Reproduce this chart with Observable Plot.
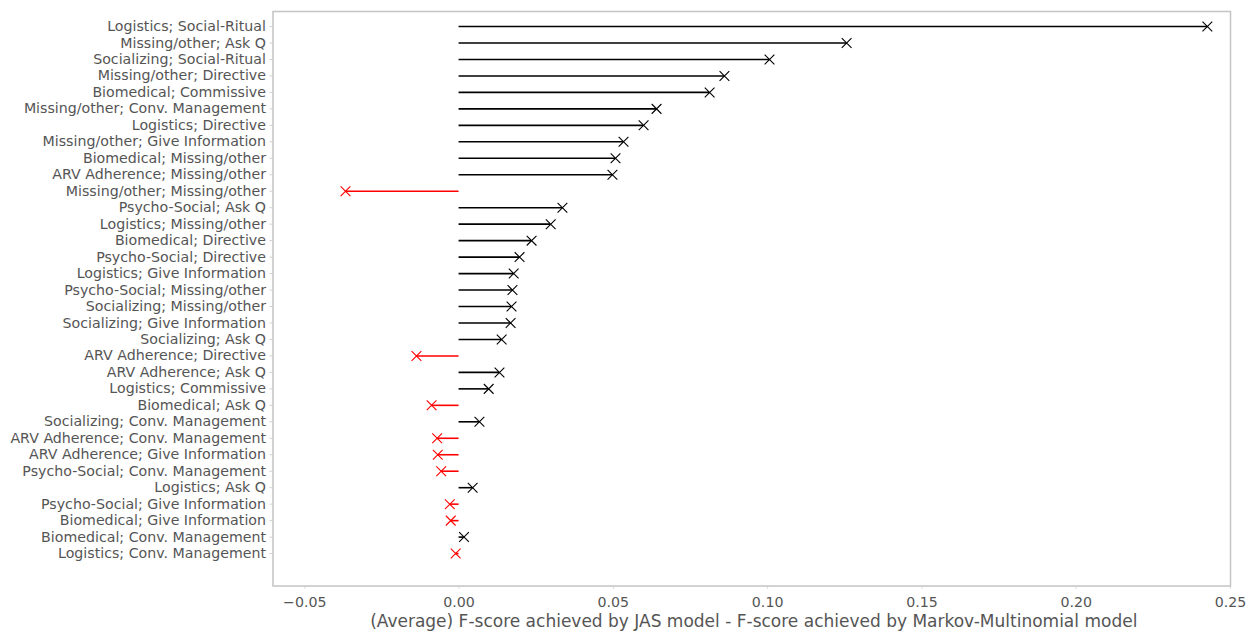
<!DOCTYPE html>
<html>
<head>
<meta charset="utf-8">
<script src="https://cdn.jsdelivr.net/npm/d3@7"></script>
<script src="https://cdn.jsdelivr.net/npm/@observablehq/plot@0.6"></script>
<style>
  html, body { margin: 0; padding: 0; background: #fff; }
</style>
</head>
<body>
<div id="chart"></div>
<script>
const labels = [
  "Logistics; Social-Ritual",
  "Missing/other; Ask Q",
  "Socializing; Social-Ritual",
  "Missing/other; Directive",
  "Biomedical; Commissive",
  "Missing/other; Conv. Management",
  "Logistics; Directive",
  "Missing/other; Give Information",
  "Biomedical; Missing/other",
  "ARV Adherence; Missing/other",
  "Missing/other; Missing/other",
  "Psycho-Social; Ask Q",
  "Logistics; Missing/other",
  "Biomedical; Directive",
  "Psycho-Social; Directive",
  "Logistics; Give Information",
  "Psycho-Social; Missing/other",
  "Socializing; Missing/other",
  "Socializing; Give Information",
  "Socializing; Ask Q",
  "ARV Adherence; Directive",
  "ARV Adherence; Ask Q",
  "Logistics; Commissive",
  "Biomedical; Ask Q",
  "Socializing; Conv. Management",
  "ARV Adherence; Conv. Management",
  "ARV Adherence; Give Information",
  "Psycho-Social; Conv. Management",
  "Logistics; Ask Q",
  "Psycho-Social; Give Information",
  "Biomedical; Give Information",
  "Biomedical; Conv. Management",
  "Logistics; Conv. Management"
];
const values = [
  0.2425, 0.1256, 0.1006, 0.0860, 0.0812, 0.0640, 0.0598, 0.0533, 0.0507, 0.0497,
  -0.0368, 0.0335, 0.0297, 0.0235, 0.0196, 0.0177, 0.0173, 0.0170, 0.0167, 0.0138,
  -0.0138, 0.0131, 0.0096, -0.0089, 0.0066, -0.0071, -0.0069, -0.0058, 0.0044,
  -0.0030, -0.0027, 0.0016, -0.0011
];
const xTicks = [-0.05, 0, 0.05, 0.10, 0.15, 0.20, 0.25];
const xLabel = "(Average) F-score achieved by JAS model - F-score achieved by Markov-Multinomial model";

const data = labels.map((label, i) => ({label, value: values[i]}));
const colorOf = d => d.value < 0 ? "#ff0000" : "#000000";

const chart = Plot.plot({
  width: 1248,
  height: 631,
  marginLeft: 272.5,
  marginRight: 18,
  marginTop: 11,
  marginBottom: 45.5,
  style: {fontFamily: "'DejaVu Sans', sans-serif", fontSize: "14.2px", color: "#555555", background: "#ffffff"},
  x: {domain: [-0.0603, 0.25]},
  y: {type: "point", domain: labels, padding: 0.5, round: false, insetTop: 6.8, insetBottom: 24.2},
  marks: [
    Plot.frame({stroke: "#c4c4c4", strokeWidth: 1.5}),
    Plot.axisX({
      ticks: xTicks,
      tickFormat: d3.format(".2f"),
      tickSize: 3,
      stroke: "#d0d0d0",
      fill: "#555555",
      tickPadding: 8,
      label: null,
      fontSize: 14.2
    }),
    Plot.axisY({
      tickSize: 3,
      stroke: "#d0d0d0",
      fill: "#555555",
      tickPadding: 4,
      label: null,
      fontSize: 14.2
    }),
    Plot.text([xLabel], {
      frameAnchor: "bottom",
      lineAnchor: "middle",
      dx: 2,
      dy: 36,
      fill: "#555555",
      fontSize: 17
    }),
    Plot.ruleY(data, {y: "label", x1: 0, x2: "value", stroke: colorOf, strokeWidth: 1.6}),
    Plot.dot(data, {y: "label", x: "value", symbol: "times", r: 4.5, stroke: colorOf, strokeWidth: 1.1})
  ]
});

document.getElementById("chart").appendChild(chart);
</script>
</body>
</html>
